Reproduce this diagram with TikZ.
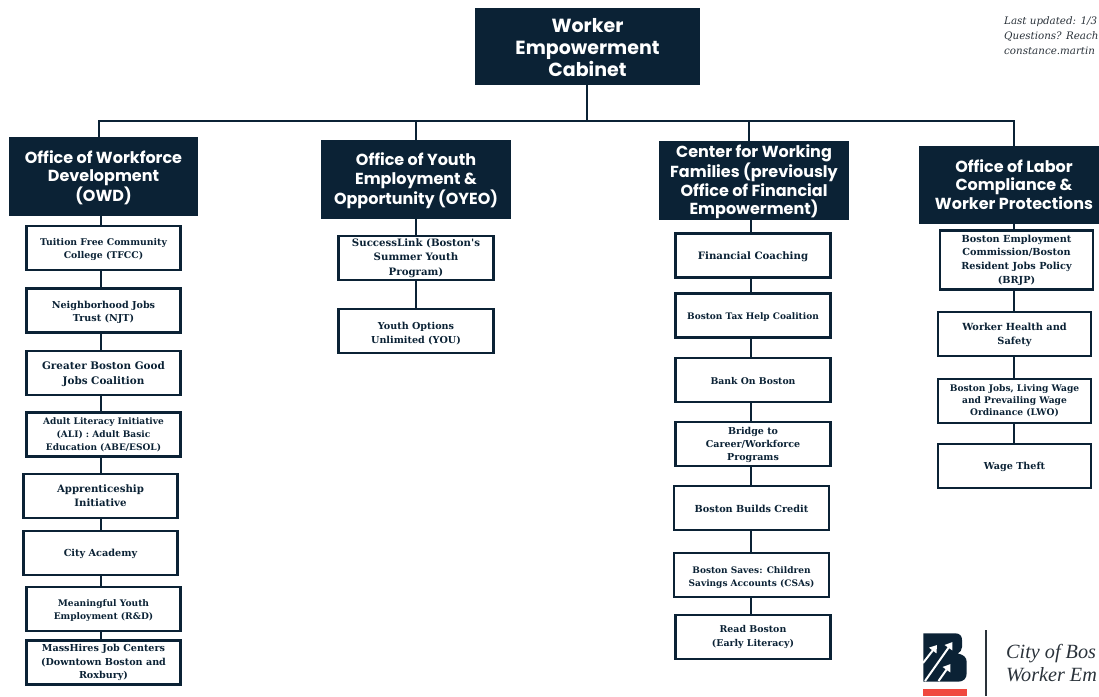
\documentclass[tikz,border=0pt]{standalone}
\usepackage{fontspec}
\usetikzlibrary{arrows.meta}
\setmainfont{Liberation Serif}
\newfontfamily\hdfont{Poppins}
\newfontfamily\bdfont{DejaVu Serif}
\definecolor{navy}{HTML}{0B2235}
\definecolor{logored}{HTML}{F0483E}
\definecolor{ink}{HTML}{2A323A}
\newcommand{\fs}[2]{\bdfont\bfseries\fontsize{#1}{#2}\selectfont}
\newcommand{\dn}[1]{\rule{0pt}{#1pt}}
\tikzset{
 x=1pt,y=-1pt,
 head/.style={fill=navy,draw=navy,text=white,font=\hdfont\bfseries\fontsize{16}{18.6}\selectfont,align=center,inner sep=0pt,minimum height=78pt},
 item/.style={draw=navy,line width=2.3pt,fill=white,text=navy,font=\fs{9.5}{13},align=center,inner sep=0pt,minimum height=44pt},
 link/.style={draw=navy,line width=2.4pt},
 note/.style={font=\bdfont\itshape\fontsize{10.3}{12}\selectfont,text=ink,anchor=base west,inner sep=0pt},
 brand/.style={font=\itshape\fontsize{20.2}{24}\selectfont,text=ink,anchor=base west,inner sep=0pt},
 logoarrow/.style={draw=white,line width=2pt,-{Triangle[length=7pt,width=9pt,fill=white]}}
}
\begin{document}
\begin{tikzpicture}
\useasboundingbox (0,0) rectangle (1099,696);
\clip (0,0) rectangle (1099,696);
% rail
\coordinate (railL) at (99,121);
\coordinate (railR) at (1014,121);
\coordinate (rail1) at (416,121);
\coordinate (rail2) at (749,121);
\coordinate (rail0) at (587,121);
\draw[link,line cap=rect] (railL) -- (railR);
% headers
\node[head,minimum width=224pt,minimum height=76pt,font=\hdfont\bfseries\fontsize{19}{22}\selectfont] (top) at (587.5,46.5) {\dn{16}Worker\\Empowerment\\Cabinet};
\node[head,minimum width=188pt] (owd) at (103.5,176) {\dn{16}Office of Workforce\\Development\\(OWD)};
\node[head,minimum width=189pt] (oyeo) at (416,179) {\dn{16}Office of Youth\\Employment \&\\Opportunity (OYEO)};
\node[head,minimum width=189pt] (cwf) at (754,180) {\dn{17}Center for Working\\Families (previously\\Office of Financial\\Empowerment)};
\node[head,minimum width=190pt,minimum height=77pt] (olc) at (1014,184.5) {Office of Labor\\Compliance \&\\Worker Protections};
% OWD items
\node[item,minimum width=154pt,font=\fs{9.3}{13}] (a1) at (103.5,248) {\dn{9.5}Tuition Free Community\\College (TFCC)};
\node[item,minimum width=154pt,font=\fs{9.6}{13}] (a2) at (103.5,310.5) {\dn{11.5}Neighborhood Jobs\\Trust (NJT)};
\node[item,minimum width=154pt,font=\fs{10.4}{14.4}] (a3) at (103.5,373) {\dn{10}Greater Boston Good\\Jobs Coalition};
\node[item,minimum width=154pt,font=\fs{9}{12.8}] (a4) at (103.5,434.5) {Adult Literacy Initiative\\(ALI) : Adult Basic\\Education (ABE/ESOL)};
\node[item,minimum width=154pt,font=\fs{10.2}{14}] (a5) at (100.5,496) {Apprenticeship\\Initiative};
\node[item,minimum width=154pt,font=\fs{9.7}{13}] (a6) at (100.5,553) {\dn{10}City Academy};
\node[item,minimum width=154pt,font=\fs{9.1}{13}] (a7) at (103.5,609) {\dn{9.5}Meaningful Youth\\Employment (R\&D)};
\node[item,minimum width=154pt,font=\fs{9.6}{13.8}] (a8) at (103.5,662.5) {MassHires Job Centers\\(Downtown Boston and\\Roxbury)};
% OYEO items
\node[item,minimum width=155pt,font=\fs{10.2}{14.5}] (b1) at (416,258) {SuccessLink (Boston's\\Summer Youth\\Program)};
\node[item,minimum width=155pt,font=\fs{9.6}{14}] (b2) at (416,331) {\dn{11.5}Youth Options\\Unlimited (YOU)};
% CWF items
\node[item,minimum width=155pt,font=\fs{10.2}{13}] (c1) at (753,255.5) {\dn{10}Financial Coaching};
\node[item,minimum width=155pt,font=\fs{9}{13}] (c2) at (753,315.5) {\dn{10}Boston Tax Help Coalition};
\node[item,minimum width=155pt,font=\fs{9.3}{13}] (c3) at (753,380) {\dn{10}Bank On Boston};
\node[item,minimum width=155pt,font=\fs{9.5}{13}] (c4) at (753,444) {\dn{9.5}Bridge to\\Career/Workforce\\Programs};
\node[item,minimum width=155pt,font=\fs{9.7}{13}] (c5) at (751.5,508) {\dn{10}Boston Builds Credit};
\node[item,minimum width=155pt,font=\fs{9}{13}] (c6) at (751.5,575) {\dn{11.5}Boston Saves: Children\\Savings Accounts (CSAs)};
\node[item,minimum width=155pt,font=\fs{9.4}{13.6}] (c7) at (753,637) {Read Boston\\(Early Literacy)};
% OLC items
\node[item,minimum width=153pt,minimum height=59pt,font=\fs{9.7}{13.6}] (d1) at (1016.5,260) {Boston Employment\\Commission/Boston\\Resident Jobs Policy\\(BRJP)};
\node[item,minimum width=153pt,font=\fs{9.8}{14}] (d2) at (1014.5,334) {\dn{9.5}Worker Health and\\Safety};
\node[item,minimum width=153pt,font=\fs{9.1}{11.8}] (d3) at (1014.5,401) {Boston Jobs, Living Wage\\and Prevailing Wage\\Ordinance (LWO)};
\node[item,minimum width=153pt,font=\fs{9.6}{13}] (d4) at (1014.5,466) {\dn{10}Wage Theft};
% connectors
\draw[link] (top.south -| rail0) -- (rail0);
\draw[link] (railL) -- (railL |- owd.north);
\draw[link] (rail1) -- (rail1 |- oyeo.north);
\draw[link] (rail2) -- (rail2 |- cwf.north);
\draw[link] (railR) -- (railR |- olc.north);
\coordinate (sa) at (101,0);
\coordinate (sb) at (416,0);
\coordinate (sc) at (751,0);
\coordinate (sd) at (1014,0);
\foreach \u/\v in {owd/a1,a1/a2,a2/a3,a3/a4,a4/a5,a5/a6,a6/a7,a7/a8}{\draw[link] (\u.south -| sa) -- (\v.north -| sa);}
\foreach \u/\v in {oyeo/b1,b1/b2}{\draw[link] (\u.south -| sb) -- (\v.north -| sb);}
\foreach \u/\v in {cwf/c1,c1/c2,c2/c3,c3/c4,c4/c5,c5/c6,c6/c7}{\draw[link] (\u.south -| sc) -- (\v.north -| sc);}
\foreach \u/\v in {olc/d1,d1/d2,d2/d3,d3/d4}{\draw[link] (\u.south -| sd) -- (\v.north -| sd);}
% note
\node[note] (n1) at (1004,24) {Last updated: 1/3};
\node[note] (n2) at (1004,39) {Questions? Reach};
\node[note] (n3) at (1004,54) {constance.martin};
% logo
\fill[navy] (923.3,633.3) -- (955,633.3) .. controls (960,633.3) and (962,636) .. (962,640) -- (962,647) .. controls (962,650) and (960,652.5) .. (957.7,653.5) .. controls (963,654.5) and (966.7,657) .. (966.7,662) -- (966.7,673) .. controls (966.7,678) and (964,681.7) .. (958,681.7) -- (923.3,681.7) -- cycle;
\draw[logoarrow] (923,663) -- (937,645);
\draw[logoarrow] (925,681) -- (952.5,642);
\draw[logoarrow] (938.5,681) -- (950.5,664);
\fill[logored] (923.3,688.7) rectangle (966.7,696);
\draw[ink,line width=2pt] (985.5,630) -- (985.5,696);
\node[brand] (city) at (1006,658) {City of Bos};
\node[brand] (work) at (1006,681) {Worker Em};
\end{tikzpicture}
\end{document}
